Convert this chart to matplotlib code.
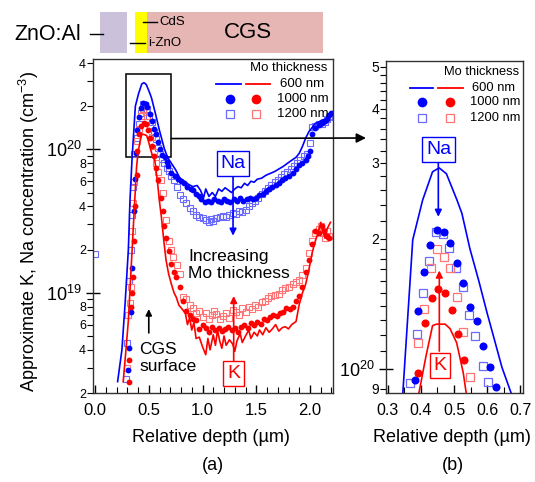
"""SIMS-like depth profiles of K and Na for three Mo thicknesses (panels a and b)."""

import matplotlib

matplotlib.use("Agg")
import matplotlib.pyplot as plt
from matplotlib.lines import Line2D
from matplotlib.patches import ConnectionPatch, Rectangle
from matplotlib.ticker import FixedFormatter, FixedLocator

plt.rcParams["font.family"] = ["Liberation Sans", "DejaVu Sans"]
plt.rcParams["mathtext.fontset"] = "custom"
plt.rcParams["mathtext.rm"] = "Liberation Sans"

# ---------------------------------------------------------------------------
# Data (concentrations in units of 1e19 cm^-3, depth in um)
# ---------------------------------------------------------------------------
SCALE = 1e19

# Panel (a) - Na, 600 nm Mo (line)
na600_depth = [0.21, 0.25, 0.28, 0.31, 0.325, 0.345, 0.375, 0.405, 0.435, 0.455, 0.477, 0.51, 0.525,
               0.56, 0.60, 0.645, 0.675, 0.71, 0.75, 0.79, 0.83, 0.87, 0.91, 0.95, 0.98, 1.01, 1.03,
               1.06, 1.09, 1.12, 1.15, 1.18, 1.21, 1.24, 1.27, 1.30, 1.33, 1.36, 1.39, 1.42, 1.45,
               1.48, 1.51, 1.55, 1.59, 1.63, 1.67, 1.71, 1.75, 1.79, 1.83, 1.87, 1.90, 1.93, 1.96,
               1.99, 2.02, 2.05, 2.08, 2.11, 2.14, 2.17, 2.20]
na600 = [0.24, 0.40, 0.85, 2.0, 4.4, 8.8, 20.0, 24.5, 28.6, 29.2, 28.3, 24.6, 22.9,
         18.0, 13.5, 10.1, 8.8, 8.0, 7.2, 6.3, 6.0, 5.7, 5.5, 5.6, 5.2, 4.6, 5.3,
         4.7, 5.0, 4.7, 5.3, 5.1, 5.4, 5.2, 5.0, 5.3, 5.5, 5.4, 5.8, 5.6, 6.0,
         5.9, 6.2, 6.3, 6.6, 6.8, 7.0, 7.3, 7.6, 8.0, 8.4, 8.8, 9.4, 10.5, 12.0,
         13.3, 14.2, 15.2, 15.5, 16.0, 16.2, 17.0, 17.8]

# Panel (a) - Na, 1000 nm Mo (filled circles)
na1000_depth = [0.31, 0.318, 0.33, 0.345, 0.36, 0.37, 0.382, 0.392, 0.409, 0.427, 0.449, 0.47, 0.488,
                0.508, 0.528, 0.548, 0.569, 0.587, 0.609, 0.627, 0.648, 0.665, 0.68, 0.71, 0.74,
                0.77, 0.80, 0.83, 0.86, 0.89, 0.91, 0.94, 0.97, 0.99, 1.02, 1.05, 1.08, 1.11, 1.14,
                1.17, 1.20, 1.23, 1.26, 1.29, 1.32, 1.35, 1.38, 1.41, 1.44, 1.47, 1.50, 1.53, 1.56,
                1.59, 1.62, 1.65, 1.68, 1.71, 1.74, 1.77, 1.80, 1.84, 1.87, 1.90, 1.93, 1.96, 1.98,
                2.00, 2.02, 2.05, 2.08, 2.11, 2.14, 2.16, 2.18, 2.20]
na1000 = [0.29, 0.41, 0.74, 1.5, 3.7, 6.2, 9.4, 13.6, 16.8, 19.4, 21.0, 20.7, 19.6,
          17.6, 15.8, 13.9, 12.9, 11.3, 10.1, 9.1, 8.9, 8.2, 7.7, 6.9, 6.5,
          6.2, 6.0, 5.8, 5.5, 5.3, 5.2, 4.9, 4.7, 4.5, 4.3, 4.4, 4.3, 4.5, 4.4,
          4.3, 4.5, 4.4, 4.3, 4.5, 4.4, 4.6, 4.4, 4.5, 4.6, 4.5, 4.6, 4.8, 4.9,
          5.1, 5.3, 5.5, 5.6, 5.8, 6.1, 6.3, 6.5, 6.8, 7.3, 7.8, 8.0, 8.4, 9.0,
          9.8, 12.9, 14.0, 14.7, 15.2, 15.8, 16.3, 17.3, 17.8]

# Panel (a) - Na, 1200 nm Mo (open squares)
na1200_depth = [0.0, 0.285, 0.295, 0.305, 0.315, 0.33, 0.345, 0.355, 0.367, 0.387, 0.407, 0.425, 0.445,
                0.468, 0.486, 0.506, 0.526, 0.545, 0.565, 0.587, 0.604, 0.625, 0.645, 0.67, 0.69,
                0.71, 0.73, 0.76, 0.79, 0.82, 0.85, 0.88, 0.91, 0.94, 0.97, 1.00, 1.03, 1.06, 1.08,
                1.10, 1.13, 1.16, 1.19, 1.22, 1.25, 1.28, 1.31, 1.34, 1.37, 1.40, 1.43, 1.46, 1.49,
                1.52, 1.55, 1.58, 1.61, 1.64, 1.67, 1.70, 1.73, 1.76, 1.79, 1.82, 1.85, 1.88, 1.91,
                1.94, 1.97, 2.00, 2.02, 2.05, 2.08, 2.11, 2.14, 2.16, 2.18, 2.20]
na1200 = [1.85, 0.25, 0.45, 0.70, 1.2, 2.0, 3.5, 5.5, 9.3, 12.05, 15.0, 17.8, 20.7,
          20.5, 19.1, 17.1, 15.5, 13.3, 11.9, 10.16, 9.35, 8.6, 8.0, 7.4, 7.1,
          6.5, 6.1, 5.5, 4.8, 4.5, 4.2, 3.9, 3.7, 3.5, 3.4, 3.3, 3.2, 3.1, 3.25,
          3.15, 3.3, 3.4, 3.45, 3.35, 3.5, 3.6, 3.55, 3.7, 3.65, 3.8, 4.0, 4.2, 4.4,
          4.6, 4.9, 5.1, 5.4, 5.6, 5.9, 6.1, 6.4, 6.7, 7.0, 7.3, 7.6, 8.0, 8.5,
          9.0, 9.3, 11.0, 14.3, 14.6, 15.0, 15.1, 15.6, 16.2, 16.8, 17.2]

# Panel (a) - K, 600 nm Mo (line)
k600_depth = [0.262, 0.29, 0.31, 0.34, 0.364, 0.386, 0.40, 0.42, 0.436, 0.455, 0.48, 0.50, 0.52,
              0.54, 0.556, 0.58, 0.60, 0.617, 0.64, 0.66, 0.685, 0.71, 0.735, 0.756, 0.78, 0.81,
              0.84, 0.86, 0.88, 0.90, 0.92, 0.94, 0.97, 1.00, 1.03, 1.05, 1.07, 1.10, 1.12, 1.14,
              1.16, 1.18, 1.20, 1.22, 1.25, 1.28, 1.30, 1.32, 1.35, 1.37, 1.40, 1.43, 1.45, 1.48,
              1.51, 1.53, 1.56, 1.59, 1.62, 1.65, 1.68, 1.71, 1.74, 1.77, 1.80, 1.83, 1.87, 1.90,
              1.93, 1.96, 1.99, 2.02, 2.05, 2.08, 2.10, 2.12, 2.14, 2.16, 2.19]
k600 = [0.24, 0.42, 0.64, 1.7, 3.7, 7.5, 9.5, 11.5, 12.8, 12.7, 12.5, 11.2, 9.8,
        8.8, 8.4, 6.0, 4.3, 3.4, 2.3, 1.7, 1.35, 1.15, 1.0, 0.93, 0.82, 0.77,
        0.72, 0.60, 0.67, 0.55, 0.62, 0.48, 0.49, 0.42, 0.37, 0.48, 0.40, 0.51, 0.43, 0.55,
        0.46, 0.41, 0.50, 0.43, 0.47, 0.44, 0.39, 0.46, 0.52, 0.45, 0.50, 0.55, 0.48, 0.53,
        0.50, 0.55, 0.51, 0.57, 0.53, 0.56, 0.60, 0.54, 0.57, 0.58, 0.56, 0.60, 0.63, 0.83,
        1.0, 1.15, 1.45, 1.9, 2.3, 2.7, 3.1, 2.7, 2.4, 2.8, 3.1]

# Panel (a) - K, 1000 nm Mo (filled circles)
k1000_depth = [0.318, 0.32, 0.333, 0.345, 0.355, 0.36, 0.37, 0.386, 0.392, 0.412, 0.432, 0.452, 0.473,
               0.493, 0.511, 0.531, 0.55, 0.57, 0.586, 0.61, 0.63, 0.645, 0.66, 0.685, 0.71, 0.735,
               0.756, 0.787, 0.82, 0.85, 0.88, 0.91, 0.94, 0.97, 1.00, 1.03, 1.06, 1.09, 1.12, 1.15,
               1.18, 1.21, 1.24, 1.27, 1.30, 1.33, 1.36, 1.39, 1.42, 1.45, 1.48, 1.51, 1.54, 1.57,
               1.60, 1.63, 1.66, 1.69, 1.72, 1.75, 1.78, 1.81, 1.84, 1.87, 1.90, 1.93, 1.96, 1.99,
               2.02, 2.05, 2.08, 2.11, 2.13, 2.16, 2.18]
k1000 = [0.24, 0.34, 0.79, 1.0, 1.28, 2.3, 4.0, 6.6, 9.77, 12.76, 14.6, 15.3, 15.0,
         13.7, 12.05, 10.5, 9.0, 7.4, 6.1, 4.6, 3.7, 2.9, 2.4, 1.95, 1.6, 1.4,
         1.28, 1.1, 0.88, 0.75, 0.70, 0.66, 0.65, 0.56, 0.60, 0.57, 0.53, 0.58, 0.55, 0.57,
         0.54, 0.56, 0.58, 0.55, 0.57, 0.53, 0.58, 0.60, 0.57, 0.62, 0.60, 0.63, 0.61, 0.66,
         0.65, 0.68, 0.70, 0.69, 0.72, 0.74, 0.78, 0.77, 0.80, 0.88, 0.95, 1.1, 1.4, 1.7,
         2.2, 2.7, 2.6, 2.9, 2.7, 2.5, 2.4]

# Panel (a) - K, 1200 nm Mo (open squares)
k1200_depth = [0.293, 0.31, 0.325, 0.333, 0.34, 0.352, 0.364, 0.39, 0.41, 0.43, 0.449, 0.47, 0.488,
               0.508, 0.528, 0.548, 0.57, 0.59, 0.61, 0.63, 0.66, 0.69, 0.71, 0.725, 0.76, 0.79,
               0.82, 0.85, 0.88, 0.91, 0.94, 0.97, 1.00, 1.03, 1.06, 1.09, 1.11, 1.13, 1.16, 1.19,
               1.22, 1.25, 1.28, 1.31, 1.34, 1.37, 1.40, 1.43, 1.46, 1.49, 1.52, 1.55, 1.58, 1.61,
               1.64, 1.67, 1.71, 1.74, 1.77, 1.80, 1.84, 1.87, 1.90, 1.93, 1.96, 1.99, 2.02, 2.05,
               2.08, 2.10, 2.12, 2.14, 2.16, 2.18]
k1200 = [0.30, 0.70, 0.85, 1.1, 2.7, 4.2, 5.9, 11.5, 13.8, 17.1, 19.0, 18.2, 17.1,
         14.7, 12.2, 9.6, 8.0, 7.0, 6.1, 5.0, 3.2, 2.3, 2.0, 1.77, 1.55, 1.35,
         0.93, 0.90, 0.82, 0.78, 0.72, 0.75, 0.68, 0.72, 0.66, 0.70, 0.75, 0.71, 0.66, 0.69,
         0.72, 0.67, 0.76, 0.73, 0.70, 0.78, 0.74, 0.80, 0.77, 0.82, 0.80, 0.86, 0.88, 0.92,
         0.95, 0.97, 0.98, 1.05, 1.08, 1.10, 1.15, 1.18, 1.22, 1.32, 1.5, 1.9, 2.3, 2.6,
         2.8, 2.9, 2.6, 2.4, 2.7, 2.5]

# Panel (b) - zoom on the near-surface peak
na600_b_depth = [0.335, 0.345, 0.375, 0.405, 0.435, 0.455, 0.477, 0.509, 0.524, 0.548, 0.575,
                 0.60, 0.625, 0.645, 0.673, 0.69]
na600_b = [7.5, 8.8, 19.9, 24.6, 28.6, 29.2, 28.3, 24.6, 22.9, 19.0, 16.0,
           13.5, 11.5, 10.1, 8.8, 8.2]
na1000_b_depth = [0.382, 0.392, 0.409, 0.427, 0.449, 0.47, 0.488, 0.508, 0.528, 0.548, 0.569,
                  0.587, 0.609, 0.627]
na1000_b = [9.43, 13.6, 16.8, 19.4, 21.0, 20.7, 19.6, 17.6, 15.8, 13.9, 12.9,
            11.3, 10.1, 9.1]
na1200_b_depth = [0.367, 0.387, 0.407, 0.425, 0.445, 0.468, 0.486, 0.506, 0.526, 0.545, 0.565,
                  0.587, 0.604]
na1200_b = [9.3, 12.05, 15.0, 17.8, 20.7, 20.5, 19.1, 17.1, 15.5, 13.3, 11.9,
            10.16, 9.35]
k600_b_depth = [0.39, 0.395, 0.415, 0.435, 0.447, 0.473, 0.488, 0.508, 0.528, 0.536, 0.54]
k600_b = [8.6, 8.9, 10.7, 12.6, 12.7, 12.7, 12.4, 11.5, 9.8, 8.9, 8.6]
k1000_b_depth = [0.392, 0.412, 0.432, 0.452, 0.473, 0.493, 0.511, 0.531]
k1000_b = [9.77, 12.76, 14.6, 15.3, 15.0, 13.7, 12.05, 10.5]
k1200_b_depth = [0.39, 0.41, 0.43, 0.449, 0.47, 0.488, 0.508, 0.528, 0.548]
k1200_b = [11.5, 13.8, 17.1, 19.0, 18.2, 17.1, 14.7, 12.2, 9.6]

# Layer stack drawn above panel (a): (name, start, end, colour)
layers = [("ZnO:Al", 0.047, 0.30, "#cbc1db"),
          ("i-ZnO/CdS", 0.372, 0.484, "#ffff00"),
          ("CGS", 0.484, 2.12, "#e6b6b5")]

BLUE = "#0000ff"
RED = "#ff0000"
BLUE_SQ = "#6a6aff"
RED_SQ = "#ff7474"

W, H = 535, 482


def fx(x):
    return x / W


def fy(y):
    return 1 - y / H


def sc(vals):
    return [v * SCALE for v in vals]


fig = plt.figure(figsize=(W / 100, H / 100), dpi=100)
ax_a = fig.add_axes([fx(93), fy(393), fx(333) - fx(93), fy(59) - fy(393)])
ax_b = fig.add_axes([fx(386), fy(393), fx(523) - fx(386), fy(61) - fy(393)])

sq_kw = dict(marker="s", ms=4.4, mfc="none", mew=0.8, ls="none")
ci_kw = dict(marker="o", ms=4.2, mew=0, ls="none")

# ---- panel (a) ----
ax_a.plot(na1200_depth, sc(na1200), mec=BLUE_SQ, **sq_kw)
ax_a.plot(k1200_depth, sc(k1200), mec=RED_SQ, **sq_kw)
ax_a.plot(na1000_depth, sc(na1000), mfc=BLUE, **ci_kw)
ax_a.plot(k1000_depth, sc(k1000), mfc=RED, **ci_kw)
ax_a.plot(na600_depth, sc(na600), color=BLUE, lw=1.2)
ax_a.plot(k600_depth, sc(k600), color=RED, lw=1.2)

ax_a.set_yscale("log")
ax_a.set_xlim(-0.019, 2.214)
ax_a.set_ylim(2e18, 4.27e20)

ax_a.yaxis.set_major_locator(FixedLocator([1e19, 1e20]))
ax_a.yaxis.set_major_formatter(FixedFormatter([r"$\mathregular{10^{19}}$", r"$\mathregular{10^{20}}$"]))
minor_a = [m * d for d in (1e18, 1e19) for m in range(2, 10)] + [2e20, 3e20, 4e20]
minor_a_lbl = ["2", "", "4", "", "6", "", "8", ""] * 2 + ["2", "", "4"]
ax_a.yaxis.set_minor_locator(FixedLocator(minor_a))
ax_a.yaxis.set_minor_formatter(FixedFormatter(minor_a_lbl))
ax_a.xaxis.set_major_locator(FixedLocator([0.0, 0.5, 1.0, 1.5, 2.0]))
ax_a.xaxis.set_major_formatter(FixedFormatter(["0.0", "0.5", "1.0", "1.5", "2.0"]))
ax_a.xaxis.set_minor_locator(FixedLocator([i / 10 for i in range(0, 23)]))

# ---- panel (b) ----
ax_b.plot(na1200_b_depth, sc(na1200_b), mec=BLUE_SQ, ms=5.5, marker="s", mfc="none", mew=0.9, ls="none")
ax_b.plot(k1200_b_depth, sc(k1200_b), mec=RED_SQ, ms=5.5, marker="s", mfc="none", mew=0.9, ls="none")
ax_b.plot(na1000_b_depth, sc(na1000_b), mfc=BLUE, ms=5.8, marker="o", mew=0, ls="none")
ax_b.plot(k1000_b_depth, sc(k1000_b), mfc=RED, ms=5.8, marker="o", mew=0, ls="none")
ax_b.plot(na600_b_depth, sc(na600_b), color=BLUE, lw=1.2)
ax_b.plot(k600_b_depth, sc(k600_b), color=RED, lw=1.2)

ax_b.set_yscale("log")
ax_b.set_xlim(0.294, 0.709)
ax_b.set_ylim(8.8e19, 5.16e20)
ax_b.yaxis.set_major_locator(FixedLocator([1e20]))
ax_b.yaxis.set_major_formatter(FixedFormatter([r"$\mathregular{10^{20}}$"]))
minor_b = [9e19] + [m * 1e19 for m in range(11, 20)] + [m * 1e19 for m in range(20, 52, 2)]
minor_b_lbl = ["9"] + [""] * 9 + ["2" if m == 20 else "3" if m == 30 else "4" if m == 40 else "5" if m == 50 else ""
                                   for m in range(20, 52, 2)]
ax_b.yaxis.set_minor_locator(FixedLocator(minor_b))
ax_b.yaxis.set_minor_formatter(FixedFormatter(minor_b_lbl))
ax_b.xaxis.set_major_locator(FixedLocator([0.3, 0.4, 0.5, 0.6, 0.7]))
ax_b.xaxis.set_major_formatter(FixedFormatter(["0.3", "0.4", "0.5", "0.6", "0.7"]))
ax_b.xaxis.set_minor_locator(FixedLocator([0.35, 0.45, 0.55, 0.65]))

for ax in (ax_a, ax_b):
    for s in ax.spines.values():
        s.set_linewidth(1.0)
        s.set_color("#333333")
    ax.tick_params(axis="y", which="major", direction="inout", length=10, width=1, labelsize=13, pad=3)
    ax.tick_params(axis="y", which="minor", direction="out", length=4, width=0.8, labelsize=9, pad=1)
    ax.tick_params(axis="x", which="major", direction="in", length=6, width=1, labelsize=12, pad=7)
    ax.tick_params(axis="x", which="minor", direction="in", length=4, width=0.8)
ax_b.tick_params(axis="x", which="major", labelsize=11.5)
ax_b.tick_params(axis="y", which="minor", labelsize=10)


# ---- legends (manual, two colour columns) ----
def legend(ax, x_title, y_rows, xs_line, xs_mark, x_text, fs, ms):
    t = ax.transAxes
    ax.text(x_title, y_rows[0], "Mo thickness", transform=t, ha="right", va="center", fontsize=fs)
    (b0, b1), (r0, r1) = xs_line
    ax.add_line(Line2D([b0, b1], [y_rows[1]] * 2, transform=t, color=BLUE, lw=1.3, clip_on=False))
    ax.add_line(Line2D([r0, r1], [y_rows[1]] * 2, transform=t, color=RED, lw=1.3, clip_on=False))
    ax.plot([xs_mark[0]], [y_rows[2]], transform=t, marker="o", ms=ms + 1.5, mfc=BLUE, mew=0, ls="none")
    ax.plot([xs_mark[1]], [y_rows[2]], transform=t, marker="o", ms=ms + 1.5, mfc=RED, mew=0, ls="none")
    ax.plot([xs_mark[0]], [y_rows[3]], transform=t, marker="s", ms=ms, mfc="none", mec=BLUE_SQ, mew=0.9, ls="none")
    ax.plot([xs_mark[1]], [y_rows[3]], transform=t, marker="s", ms=ms, mfc="none", mec=RED_SQ, mew=0.9, ls="none")
    for y, lbl in zip(y_rows[1:], ["600 nm", "1000 nm", "1200 nm"]):
        ax.text(x_text[lbl], y, lbl, transform=t, ha="left", va="center", fontsize=fs)


legend(ax_a, 0.975, [0.973, 0.925, 0.880, 0.835], ((0.5125, 0.617), (0.6375, 0.7375)), (0.571, 0.679),
       {"600 nm": 0.779, "1000 nm": 0.767, "1200 nm": 0.767}, 9.5, 5.5)
legend(ax_b, 0.975, [0.967, 0.919, 0.877, 0.828], ((0.175, 0.343), (0.380, 0.562)), (0.26, 0.467),
       {"600 nm": 0.628, "1000 nm": 0.613, "1200 nm": 0.613}, 9.3, 5.5)

# ---- annotations panel (a) ----
box_b = dict(boxstyle="square,pad=0.2", fc="white", ec=BLUE, lw=1)
box_r = dict(boxstyle="square,pad=0.2", fc="white", ec=RED, lw=1)
ax_a.annotate("", xy=(1.284, 2.5e19), xytext=(1.284, 0.66e20),
              arrowprops=dict(arrowstyle="-|>", color=BLUE, lw=1.2, mutation_scale=10, shrinkA=0, shrinkB=0))
ax_a.text(1.284, 0.80e20, "Na", color=BLUE, fontsize=14, ha="center", va="center", bbox=box_b)
ax_a.annotate("", xy=(1.29, 9.5e18), xytext=(1.29, 3.35e18),
              arrowprops=dict(arrowstyle="-|>", color=RED, lw=1.2, mutation_scale=10, shrinkA=0, shrinkB=0))
ax_a.text(1.29, 2.73e18, "K", color=RED, fontsize=14, ha="center", va="center", bbox=box_r)
ax_a.text(0.865, 1.57e19, "Increasing\nMo thickness", fontsize=12.5, ha="left", va="center", linespacing=1.15)
ax_a.text(0.41, 3.5e18, "CGS\nsurface", fontsize=12.5, ha="left", va="center", linespacing=1.15)
ax_a.annotate("", xy=(0.50, 7.7e18), xytext=(0.50, 5.25e18),
              arrowprops=dict(arrowstyle="-|>", color="black", lw=1.2, mutation_scale=9, shrinkA=0, shrinkB=0))
ax_a.add_patch(Rectangle((0.29, 0.88e20), 0.42, 3.35e20 - 0.88e20, fill=False, ec="black", lw=1.1))
fig.add_artist(ConnectionPatch(xyA=(0.71, 1.19e20), coordsA=ax_a.transData,
                               xyB=(fx(366), fy(138)), coordsB=fig.transFigure,
                               arrowstyle="-|>", mutation_scale=14, color="black", lw=1.2))

# ---- annotations panel (b) ----
ax_b.annotate("", xy=(0.4525, 2.25e20), xytext=(0.4525, 3.01e20),
              arrowprops=dict(arrowstyle="-|>", color=BLUE, lw=1.2, mutation_scale=10, shrinkA=0, shrinkB=0))
ax_b.text(0.453, 3.22e20, "Na", color=BLUE, fontsize=14, ha="center", va="center", bbox=box_b)
ax_b.annotate("", xy=(0.4555, 1.69e20), xytext=(0.4555, 1.1e20),
              arrowprops=dict(arrowstyle="-|>", color=RED, lw=1.2, mutation_scale=10, shrinkA=0, shrinkB=0))
ax_b.text(0.4576, 1.02e20, "K", color=RED, fontsize=14, ha="center", va="center", bbox=box_r)

# ---- axis labels ----
fig.text(fx(29), fy(231), r"Approximate K, Na concentration (cm$\mathregular{^{-3}}$)",
         rotation=90, ha="center", va="center", fontsize=13)
fig.text(fx(211), fy(438), "Relative depth (\u00b5m)", ha="center", va="center", fontsize=13)
fig.text(fx(452), fy(437), "Relative depth (\u00b5m)", ha="center", va="center", fontsize=13)
fig.text(fx(213), fy(465), "(a)", ha="center", va="center", fontsize=13)
fig.text(fx(453), fy(465), "(b)", ha="center", va="center", fontsize=13)

# ---- layer stack above panel (a) ----
ax_t = fig.add_axes([fx(93), fy(53), fx(333) - fx(93), fy(12) - fy(53)])
ax_t.set_xlim(ax_a.get_xlim())
ax_t.set_ylim(0, 1)
ax_t.axis("off")
for name, x0, x1, col in layers:
    ax_t.add_patch(Rectangle((x0, 0), x1 - x0, 1, fc=col, ec="none"))
fig.text(fx(14), fy(34), "ZnO:Al", fontsize=15.5, ha="left", va="center")
fig.add_artist(Line2D([fx(90), fx(103)], [fy(34), fy(34)], color="black", lw=1))
fig.text(fx(248), fy(33), "CGS", fontsize=16, ha="center", va="center")
fig.add_artist(Line2D([fx(143), fx(157)], [fy(22), fy(22)], color="black", lw=1))
fig.text(fx(159), fy(22), "CdS", fontsize=9.5, ha="left", va="center")
fig.add_artist(Line2D([fx(130), fx(145)], [fy(43), fy(43)], color="black", lw=1))
fig.text(fx(148.5), fy(43), "i-ZnO", fontsize=9.5, ha="left", va="center")

fig.savefig("out.png", dpi=100)
